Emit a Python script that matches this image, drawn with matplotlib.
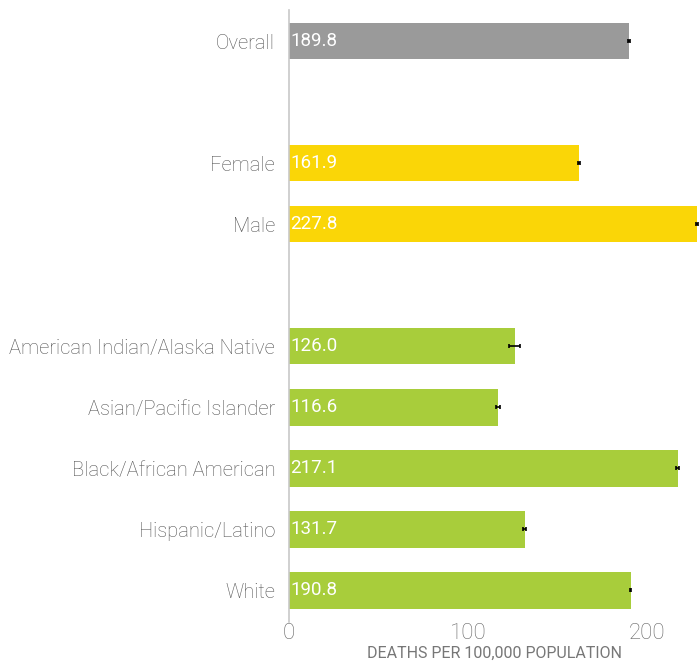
import matplotlib
matplotlib.use("Agg")
import matplotlib.pyplot as plt

# data
categories = ["Overall", "Female", "Male", "American Indian/Alaska Native",
              "Asian/Pacific Islander", "Black/African American",
              "Hispanic/Latino", "White"]
values = [189.8, 161.9, 227.8, 126.0, 116.6, 217.1, 131.7, 190.8]
errors = [0.5, 0.6, 0.6, 3.0, 1.2, 0.7, 0.8, 0.4]
groups = ["all", "sex", "sex", "race", "race", "race", "race", "race"]
positions = [0, 2, 3, 5, 6, 7, 8, 9]

group_colors = {"all": "#9a9a9a", "sex": "#fad607", "race": "#a8cd3b"}

plt.rcParams["font.family"] = ["Roboto", "DejaVu Sans"]

fig = plt.figure(figsize=(7, 6.67), dpi=100)
ax = fig.add_axes([0.413, 0.0675, 0.587, 0.9175])

colors = [group_colors[g] for g in groups]
ax.barh(positions, values, height=0.6, color=colors, zorder=2)
ax.errorbar(values, positions, xerr=errors, fmt="none", ecolor="black",
            elinewidth=1.2, capsize=1.5, capthick=1.2, zorder=3)

for p, v in zip(positions, values):
    ax.text(0.8, p, f"{v:.1f}", color="white", fontsize=13.5, va="center",
            ha="left", zorder=4)

ax.set_ylim(9.52, -0.51)
ax.set_xlim(0, 229.6)
ax.set_yticks(positions)
ax.set_yticklabels(categories, fontsize=14.5, color="#555555",
                   fontweight="light")
ax.set_xticks([0, 100, 200])
ax.set_xticklabels(["0", "100", "200"], fontsize=16, color="#666666",
                   fontweight="light")
ax.tick_params(axis="both", length=0)
ax.tick_params(axis="y", pad=10)
ax.tick_params(axis="x", pad=1)
ax.set_xlabel("DEATHS PER 100,000 POPULATION", fontsize=11.5, color="#777777",
              labelpad=1)

for s in ["top", "right", "bottom"]:
    ax.spines[s].set_visible(False)
ax.spines["left"].set_color("#c8c8c8")
ax.spines["left"].set_linewidth(1.2)

fig.savefig("out.png", dpi=100)
